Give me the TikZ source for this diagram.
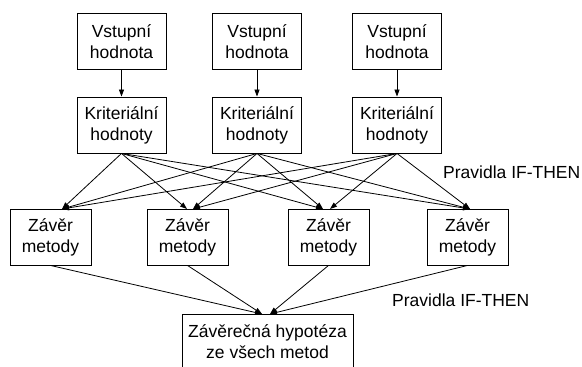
\documentclass[tikz,border=0pt]{standalone}
\usepackage{fontspec}
\setmainfont{Liberation Sans}
\usetikzlibrary{arrows.meta}
\begin{document}
\begin{tikzpicture}[x=1pt,y=-1pt,
  box/.style={draw, line width=0.9pt, minimum height=56pt, align=center, inner sep=0pt,
              font=\fontsize{17.5}{21}\selectfont},
  conn/.style={line width=0.8pt, -{Triangle[length=7pt,width=5pt]}},
  lab/.style={font=\fontsize{17.5}{21}\selectfont, inner sep=0pt, anchor=west}]
\useasboundingbox (0,0) rectangle (582,367);
\clip (0,0) rectangle (582,367);
% top row
\node[box, minimum width=89pt] (v1) at (121.5,41.5) {Vstupní\\hodnota};
\node[box, minimum width=89pt] (v2) at (257,41.5) {Vstupní\\hodnota};
\node[box, minimum width=89pt] (v3) at (397,41.5) {Vstupní\\hodnota};
% second row
\node[box, minimum width=89pt] (k1) at (121.5,125) {Kriteriální\\hodnoty};
\node[box, minimum width=89pt] (k2) at (257,125) {Kriteriální\\hodnoty};
\node[box, minimum width=89pt] (k3) at (397,125) {Kriteriální\\hodnoty};
% third row
\node[box, minimum width=81pt] (z1) at (50.5,237) {Závěr\\metody};
\node[box, minimum width=81pt] (z2) at (187.5,237) {Závěr\\metody};
\node[box, minimum width=81pt] (z3) at (328.5,237) {Závěr\\metody};
\node[box, minimum width=81pt] (z4) at (467.5,237) {Závěr\\metody};
% final
\node[box, minimum width=171pt] (f) at (267.5,342) {Závěrečná hypotéza\\ze všech metod};
% labels
\node[lab] (p1) at (443,172) {Pravidla IF-THEN};
\node[lab] (p2) at (392,300) {Pravidla IF-THEN};
% arrow end points
\coordinate (z1a) at (62,209);
\coordinate (z2a) at (187,209);
\coordinate (z2b) at (193,209);
\coordinate (z3a) at (323,209);
\coordinate (z3b) at (330,209);
\coordinate (z4a) at (470,209);
\coordinate (fa) at (262,314);
\coordinate (fb) at (270,314);
% vertical arrows
\draw[conn] (v1.south) -- (k1.north);
\draw[conn] (v2.south) -- (k2.north);
\draw[conn] (v3.south) -- (k3.north);
% cross arrows
\foreach \k/\a/\b/\c/\d in {k1/z1a/z2a/z3a/z4a, k2/z1a/z2b/z3a/z4a, k3/z1a/z2b/z3b/z4a}{
  \draw[conn] (\k.south) -- (\a);
  \draw[conn] (\k.south) -- (\b);
  \draw[conn] (\k.south) -- (\c);
  \draw[conn] (\k.south) -- (\d);
}
% to final
\draw[conn] (z1.south) -- (fa);
\draw[conn] (z2.south) -- (fa);
\draw[conn] (z3.south) -- (fb);
\draw[conn] (z4.south) -- (fb);
\end{tikzpicture}
\end{document}
